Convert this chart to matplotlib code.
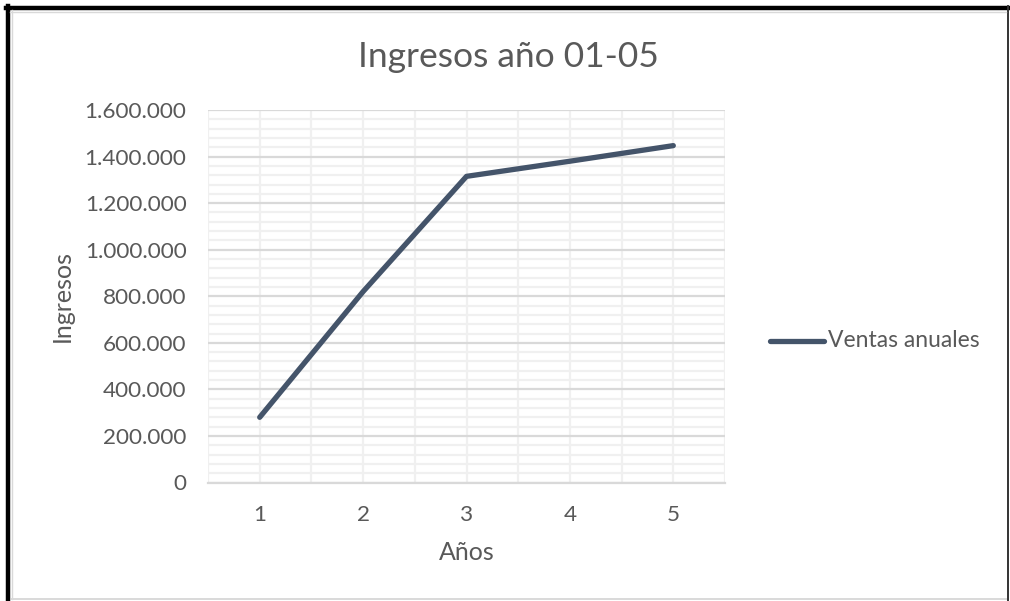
import matplotlib
matplotlib.use("Agg")
import matplotlib.pyplot as plt
from matplotlib.lines import Line2D
from matplotlib.ticker import FuncFormatter, MultipleLocator
import numpy as np

# Annual revenue, years 1-5
years = [1, 2, 3, 4, 5]
ventas = [280000, 820000, 1315000, 1380000, 1447000]
y_ticks = [0, 200000, 400000, 600000, 800000, 1000000, 1200000, 1400000, 1600000]

TEXT = "#595959"
LINE = "#44546A"
FONT = ["Lato", "DejaVu Sans"]
plt.rcParams["font.family"] = FONT

W, H = 1010, 601
fig = plt.figure(figsize=(W / 100, H / 100), dpi=100)

def fx(px):
    return px / W

def fy(py):
    return 1 - py / H

ax = fig.add_axes([fx(208), fy(482.5), fx(725) - fx(208), fy(110) - fy(482.5)])

ax.plot(years, ventas, color=LINE, lw=3.8, solid_capstyle="round",
        solid_joinstyle="round", zorder=3, label="Ventas anuales")

ax.set_xlim(0.5, 5.5)
ax.set_ylim(0, 1600000)
ax.set_xticks(years)
ax.set_yticks(y_ticks)
ax.yaxis.set_minor_locator(MultipleLocator(40000))
ax.xaxis.set_minor_locator(MultipleLocator(0.5))
ax.yaxis.set_major_formatter(FuncFormatter(lambda v, p: f"{int(v):,}".replace(",", ".")))

ax.grid(which="major", axis="y", color="#d9d9d9", lw=1.6, zorder=0)
ax.grid(which="minor", axis="y", color="#f0f0f0", lw=1.6, zorder=0)
ax.grid(which="minor", axis="x", color="#f0f0f0", lw=1.6, zorder=0)
ax.grid(which="major", axis="x", color="#f0f0f0", lw=1.6, zorder=0)
ax.set_axisbelow(True)

for s in ["top", "right", "left"]:
    ax.spines[s].set_visible(False)
ax.spines["bottom"].set_color("#d9d9d9")
ax.spines["bottom"].set_linewidth(1.6)

ax.tick_params(which="both", length=0)
ax.tick_params(axis="y", pad=15.5, labelsize=16.2, labelcolor=TEXT)
ax.tick_params(axis="x", pad=16, labelsize=16.2, labelcolor=TEXT)

ax.set_xlabel("Años", fontsize=18, color=TEXT, labelpad=12)
ax.set_ylabel("Ingresos", fontsize=18, color=TEXT, labelpad=8)

fig.text(fx(508), fy(57), "Ingresos año 01-05", ha="center", va="center",
         fontsize=25.5, color=TEXT)

# legend drawn at the right of the plot area
fig.add_artist(Line2D([fx(770), fx(824)], [fy(341), fy(341)], color=LINE, lw=3.8,
                      solid_capstyle="round"))
fig.text(fx(828), fy(340), "Ventas anuales", ha="left", va="center",
         fontsize=16.5, color=TEXT)

# chart frame
fig.add_artist(Line2D([fx(8), fx(8)], [fy(6), fy(601)], color="black", lw=3.2))
fig.add_artist(Line2D([fx(6), fx(1008)], [fy(8), fy(8)], color="black", lw=3.2))
fig.add_artist(Line2D([fx(1007.5), fx(1007.5)], [fy(6), fy(601)], color="#333333", lw=1.4))
fig.add_artist(Line2D([fx(11.5), fx(1006)], [fy(599), fy(599)], color="#d9d9d9", lw=1.4))
fig.add_artist(Line2D([fx(11.5), fx(11.5)], [fy(10), fy(599)], color="#d9d9d9", lw=1.0))
fig.add_artist(Line2D([fx(10), fx(1006)], [fy(11.5), fy(11.5)], color="#d9d9d9", lw=1.0))

fig.savefig("out.png", dpi=100)
